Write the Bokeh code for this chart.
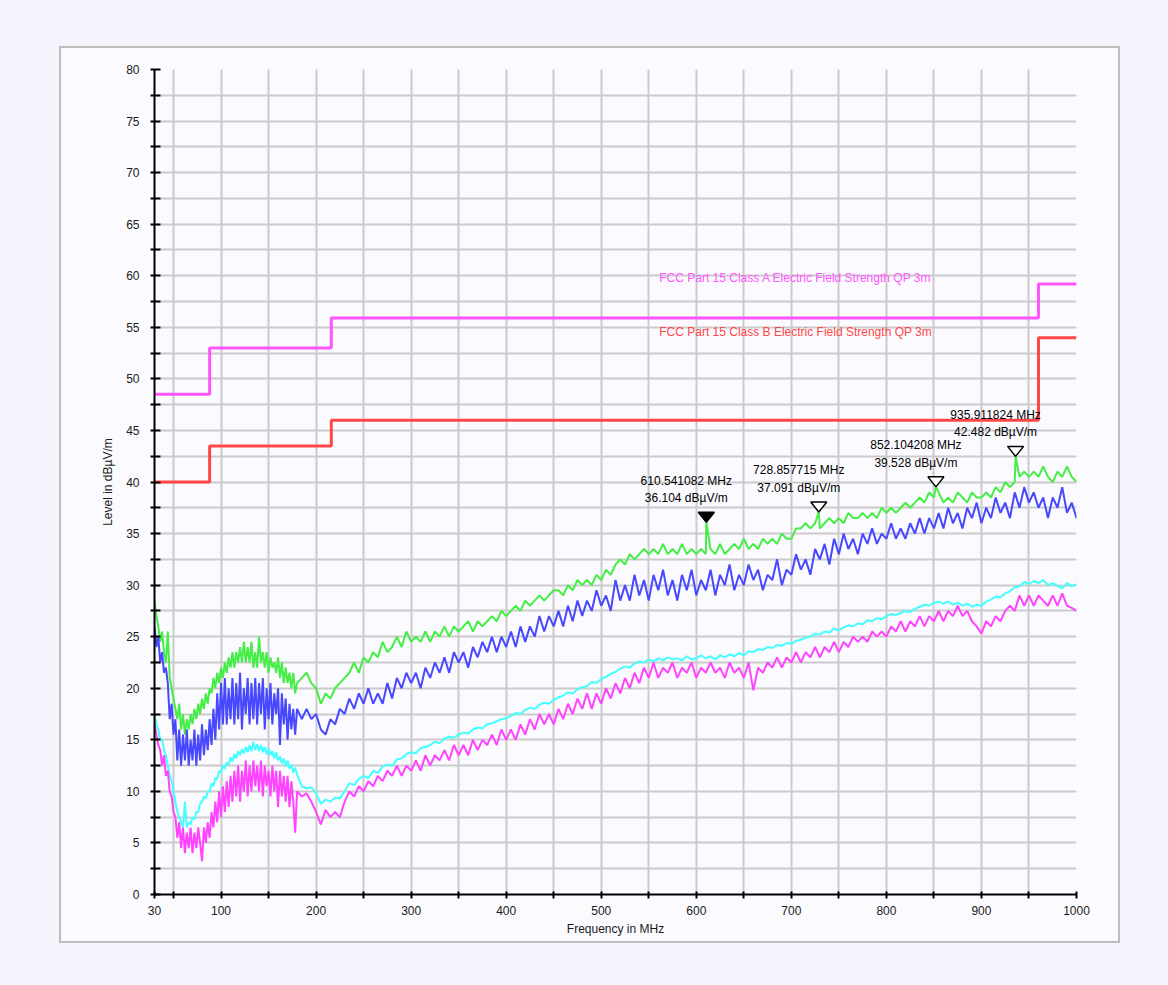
from bokeh.plotting import figure
from bokeh.models import Range1d, FixedTicker
from bokeh.core.properties import value
from bokeh.embed import file_html
from bokeh.resources import INLINE

# ---------------- data ----------------
freq = [
    30, 32, 34, 36, 38, 40, 42, 44, 46, 48,
    50, 52, 54, 56, 58, 60, 62, 64, 66, 68,
    70, 72, 74, 76, 78, 80, 82, 84, 86, 88,
    90, 92, 94, 96, 98, 100, 102, 104, 106, 108,
    110, 112, 114, 116, 118, 120, 122, 124, 126, 128,
    130, 132, 134, 136, 138, 140, 142, 144, 146, 148,
    150, 152, 154, 156, 158, 160, 162, 164, 166, 168,
    170, 172, 174, 176, 178, 180,
    185, 190, 195, 200, 205, 210, 215, 220, 225, 230,
    235, 240, 245, 250, 255, 260, 265, 270, 275, 280,
    285, 290, 295, 300, 305, 310, 315, 320, 325, 330,
    335, 340, 345, 350, 355, 360, 365, 370, 375, 380,
    385, 390, 395, 400, 405, 410, 415, 420, 425, 430,
    435, 440, 445, 450, 455, 460, 465, 470, 475, 480,
    485, 490, 495, 500, 505, 510, 515, 520, 525, 530,
    535, 540, 545, 550, 555, 560, 565, 570, 575, 580,
    585, 590, 595, 600, 605, 610, 615, 620, 625, 630,
    635, 640, 645, 650, 655, 660, 665, 670, 675, 680,
    685, 690, 695, 700, 705, 710, 715, 720, 725, 730,
    735, 740, 745, 750, 755, 760, 765, 770, 775, 780,
    785, 790, 795, 800, 805, 810, 815, 820, 825, 830,
    835, 840, 845, 850, 855, 860, 865, 870, 875, 880,
    885, 890, 895, 900, 905, 910, 915, 920, 925, 930,
    935, 940, 945, 950, 955, 960, 965, 970, 975, 980,
    985, 990, 995, 1000,
]

green_peak = [
    28.5, 27.0, 26.0, 24.5, 25.5, 23.5, 22.5, 25.5, 21.0, 20.0,
    19.0, 18.0, 17.0, 18.5, 16.0, 17.5, 15.5, 17.0, 16.0, 17.5,
    16.5, 18.0, 17.0, 18.5, 17.5, 19.0, 18.0, 19.5, 18.5, 20.0,
    19.5, 21.0, 20.0, 21.5, 20.5, 22.0, 21.0, 22.5, 21.5, 23.0,
    22.0, 23.5, 22.0, 23.5, 22.5, 24.0, 22.5, 24.5, 22.5, 24.0,
    22.5, 24.5, 22.0, 23.5, 22.0, 25.0, 22.5, 23.5, 22.0, 23.5,
    21.5, 23.0, 22.0, 22.5, 21.5, 23.0, 21.0, 22.5, 20.5, 22.0,
    20.5, 21.5, 20.0, 21.5, 19.5, 20.5,
    21.0, 21.5, 20.5, 20.0, 18.5, 19.5, 19.0, 20.0, 20.5, 21.0,
    21.5, 22.5, 21.5, 23.0, 22.5, 23.5, 23.0, 24.5, 23.5, 24.0,
    25.0, 24.0, 25.5, 24.5, 25.0, 24.5, 25.5, 24.5, 25.5, 25.0,
    26.0, 25.0, 26.0, 25.5, 26.0, 26.5, 25.5, 26.5, 26.0, 26.5,
    27.0, 26.5, 27.5, 27.0, 27.5, 28.0, 27.5, 28.5, 28.0, 28.5,
    29.0, 28.5, 29.0, 29.5, 29.5, 29.0, 30.0, 29.5, 30.5, 30.0,
    30.5, 30.0, 31.0, 30.5, 31.5, 31.0, 32.0, 32.5, 32.0, 33.0,
    32.5, 33.0, 33.5, 33.0, 33.5, 33.0, 34.0, 33.0, 33.5, 33.0,
    34.0, 33.0, 33.5, 33.0, 33.5, 33.0, 33.5, 33.0, 34.0, 33.0,
    33.5, 34.0, 33.5, 34.5, 33.5, 34.0, 33.5, 34.5, 34.0, 34.5,
    34.0, 35.0, 34.5, 34.5, 35.5, 35.5, 36.0, 35.5, 36.0, 35.5,
    36.0, 36.5, 36.0, 36.5, 36.0, 37.0, 36.5, 36.5, 37.0, 36.5,
    37.0, 36.5, 37.5, 37.0, 37.5, 37.0, 37.5, 38.0, 37.5, 38.0,
    38.5, 38.0, 39.0, 38.5, 39.0, 38.0, 38.5, 38.0, 39.0, 38.5,
    38.0, 39.0, 38.5, 38.5, 39.0, 38.5, 39.5, 39.0, 40.0, 39.5,
    40.0, 40.5, 41.0, 40.5, 41.0, 40.5, 41.5, 40.5, 40.0, 41.0,
    40.5, 41.5, 40.5, 40.0,
]

blue_peak = [
    26.0, 24.0, 25.0, 22.5, 23.5, 21.5, 22.0, 20.5, 17.0, 18.5,
    15.5, 17.0, 13.0, 16.0, 12.5, 15.5, 13.0, 16.0, 12.5, 15.0,
    13.0, 16.0, 12.5, 15.5, 13.0, 16.5, 13.5, 16.0, 14.0, 17.0,
    14.5, 18.0, 15.0, 19.5, 16.0, 20.5, 16.5, 21.0, 16.5, 20.0,
    17.0, 21.0, 16.5, 20.5, 17.0, 21.5, 16.0, 20.0, 17.5, 21.0,
    16.5, 20.5, 17.0, 21.0, 16.5, 20.5, 17.5, 21.0, 16.0, 20.0,
    17.0, 20.5, 16.5, 19.5, 17.5, 20.0, 14.5, 19.5, 16.5, 19.0,
    15.0, 18.5, 16.0, 18.0, 15.5, 18.0,
    17.0, 18.0, 17.0, 17.5, 16.0, 15.5, 17.0, 16.5, 18.0, 17.5,
    19.0, 18.0, 19.5, 18.5, 20.0, 18.5, 19.5, 18.5, 20.5, 19.0,
    21.0, 20.0, 21.5, 20.5, 21.5, 20.0, 22.0, 21.0, 22.5, 21.5,
    23.0, 21.5, 23.5, 22.5, 23.5, 22.0, 24.0, 23.0, 24.5, 23.5,
    25.0, 23.5, 25.0, 24.0, 25.5, 24.0, 26.0, 24.5, 26.0, 25.0,
    27.0, 25.5, 27.0, 26.0, 27.5, 26.0, 28.0, 26.5, 28.5, 27.0,
    28.5, 27.5, 29.5, 28.0, 29.0, 27.5, 30.5, 28.5, 30.0, 28.5,
    31.0, 29.0, 30.5, 28.5, 31.0, 29.5, 31.5, 29.0, 30.5, 28.5,
    31.0, 29.5, 31.5, 29.0, 30.5, 29.5, 31.5, 29.0, 31.0, 30.0,
    32.0, 29.5, 31.0, 30.0, 32.0, 30.5, 31.5, 29.5, 31.0, 30.5,
    32.5, 30.0, 31.5, 31.0, 33.0, 31.5, 32.5, 31.0, 33.5, 32.5,
    34.0, 32.0, 34.5, 33.0, 35.0, 33.5, 34.5, 33.0, 35.0, 34.0,
    35.5, 34.0, 35.0, 34.5, 36.0, 34.5, 35.5, 34.5, 36.0, 35.0,
    36.5, 35.0, 36.5, 35.5, 37.0, 35.5, 37.5, 36.0, 37.0, 35.5,
    37.5, 36.5, 38.0, 36.0, 37.5, 36.5, 38.5, 37.0, 38.0, 36.5,
    39.0, 37.5, 39.5, 38.0, 39.0, 37.5, 38.5, 36.5, 38.5, 37.5,
    39.5, 37.0, 38.0, 36.5,
]

cyan_avg = [
    17.5, 16.5, 16.0, 15.0, 15.0, 14.0, 13.5, 12.5, 11.5, 11.0,
    10.0, 9.0, 8.0, 7.5, 7.0, 6.5, 9.0, 6.5, 7.0, 6.8,
    7.5, 7.3, 8.0, 8.0, 8.8, 9.0, 9.5, 9.3, 10.0, 10.0,
    10.8, 10.5, 11.3, 11.2, 12.0, 11.8, 12.5, 12.2, 12.8, 12.6,
    13.3, 12.9, 13.6, 13.2, 13.9, 13.5, 14.1, 13.7, 14.3, 13.8,
    14.5, 13.9, 14.8, 14.0, 14.6, 13.9, 14.5, 13.8, 14.3, 13.6,
    14.2, 13.5, 13.9, 13.2, 13.8, 13.0, 13.4, 12.7, 13.2, 12.4,
    13.0, 12.2, 12.6, 11.8, 12.3, 11.6,
    10.5, 10.3, 10.4, 9.8, 8.8, 9.2, 9.0, 9.4, 9.3, 10.0,
    10.8, 10.6, 11.2, 11.5, 11.3, 12.0, 11.8, 12.4, 12.6, 12.5,
    13.1, 13.2, 13.6, 13.8, 13.7, 14.2, 14.3, 14.5, 14.8, 14.7,
    15.1, 15.3, 15.2, 15.5, 15.7, 15.6, 16.0, 16.2, 16.1, 16.5,
    16.6, 16.8, 17.0, 17.1, 17.3, 17.6, 17.5, 17.9, 18.1, 18.0,
    18.4, 18.6, 18.5, 18.9, 19.1, 19.3, 19.6, 19.5, 19.9, 20.1,
    20.2, 20.6, 20.5, 20.9, 21.1, 21.4, 21.6, 21.9, 22.1, 22.0,
    22.4, 22.6, 22.5, 22.8, 22.6, 22.9, 22.7, 23.0, 22.8, 22.9,
    22.7, 23.1, 22.8, 22.9, 23.2, 22.9, 23.1, 22.8, 23.2, 23.0,
    23.3, 23.1, 23.4, 23.2, 23.6, 23.5, 23.8, 23.7, 24.0, 23.9,
    24.2, 24.1, 24.4, 24.3, 24.6, 24.7, 24.9, 25.0, 25.3, 25.2,
    25.5, 25.4, 25.8, 25.6, 25.9, 26.1, 26.0, 26.3, 26.2, 26.6,
    26.5, 26.8, 26.7, 27.0, 27.2, 27.1, 27.3, 27.5, 27.4, 27.7,
    27.9, 28.1, 28.0, 28.3, 28.4, 28.2, 28.4, 28.1, 28.3, 28.0,
    28.2, 27.9, 28.1, 28.0, 28.4, 28.6, 28.9, 28.8, 29.2, 29.4,
    29.8, 29.9, 30.3, 30.1, 30.4, 30.2, 30.5, 30.0, 30.2, 29.9,
    29.7, 30.2, 29.9, 30.1,
]

magenta_avg = [
    16.5, 15.5, 14.5, 14.0, 12.5, 13.5, 11.5, 12.0, 10.0, 9.5,
    8.0, 7.5, 5.5, 7.0, 4.5, 6.5, 4.0, 6.0, 4.5, 6.5,
    4.0, 6.0, 4.5, 6.5, 5.0, 3.2, 6.5, 5.0, 7.0, 5.5,
    8.0, 6.5, 9.0, 7.0, 10.0, 7.5, 10.5, 8.0, 11.0, 8.5,
    11.5, 9.0, 12.0, 9.5, 12.5, 9.0, 12.0, 10.0, 13.0, 9.5,
    12.5, 10.0, 13.0, 10.5, 12.5, 10.0, 13.0, 9.5, 12.5, 10.5,
    12.0, 9.5, 12.5, 10.0, 12.0, 8.5, 12.0, 9.5, 11.5, 9.0,
    11.5, 8.5, 11.0, 9.0, 6.0, 10.0,
    9.5, 9.8, 9.0, 8.0, 6.8, 8.2, 7.5, 8.0, 7.5, 9.0,
    10.0, 9.5, 10.5, 10.0, 11.0, 10.5, 11.5, 11.0, 12.0, 11.5,
    12.5, 11.5, 12.5, 12.0, 13.0, 12.0, 13.5, 12.5, 13.5, 13.0,
    14.0, 13.0, 14.5, 13.5, 14.5, 13.5, 15.0, 14.0, 15.0, 14.5,
    15.5, 14.5, 16.0, 15.0, 16.0, 15.0, 16.5, 15.5, 17.0, 16.0,
    17.5, 16.5, 17.5, 16.5, 18.0, 17.0, 18.5, 17.5, 19.0, 18.0,
    19.5, 18.0, 19.5, 18.5, 20.0, 19.0, 20.5, 19.5, 21.0, 20.0,
    21.5, 20.5, 22.0, 21.0, 22.5, 21.0, 22.0, 21.5, 22.5, 21.0,
    22.0, 21.5, 22.5, 21.0, 22.0, 21.5, 22.5, 21.5, 22.0, 21.0,
    22.5, 21.5, 22.0, 21.0, 22.5, 19.8, 22.0, 21.5, 22.5, 22.0,
    23.0, 22.0, 23.0, 22.5, 23.5, 22.5, 23.5, 23.0, 24.0, 23.0,
    24.0, 23.5, 24.5, 23.5, 24.5, 24.0, 25.0, 24.5, 25.0, 24.5,
    25.5, 25.0, 25.5, 25.0, 26.0, 25.5, 26.5, 25.5, 26.5, 26.0,
    27.0, 26.0, 27.0, 26.5, 27.5, 26.5, 27.5, 27.0, 28.0, 27.0,
    27.5, 26.5, 26.0, 25.3, 26.5, 26.0, 27.0, 26.5, 27.5, 28.0,
    27.5, 29.0, 28.0, 29.0, 28.0, 29.0, 28.5, 28.0, 29.0, 28.0,
    29.2, 28.0, 27.8, 27.5,
]

# marker peaks (on the green trace)
peak_freq = [610.541082, 728.857715, 852.104208, 935.911824]
peak_level = [36.104, 37.091, 39.528, 42.482]

# limit lines
limit_freq = [30, 88, 216, 960, 1000]
class_a = [48.5, 53.0, 55.9, 59.2, 59.2]
class_b = [40.0, 43.5, 46.0, 54.0, 54.0]

x_ticks = [30, 50, 100, 150, 200, 250, 300, 350, 400, 450, 500,
           550, 600, 650, 700, 750, 800, 850, 900, 950, 1000]
y_ticks = [0, 2.5, 5, 7.5, 10, 12.5, 15, 17.5, 20, 22.5, 25, 27.5, 30,
           32.5, 35, 37.5, 40, 42.5, 45, 47.5, 50, 52.5, 55, 57.5, 60,
           62.5, 65, 67.5, 70, 72.5, 75, 77.5, 80]

for s in (green_peak, blue_peak, cyan_avg, magenta_avg):
    assert len(s) == len(freq), len(s)

# ---------------- styling ----------------
PAGE = "#f4f5fc"
PANEL = "#fbfbff"
FONT = "Liberation Sans"

p = figure(width=1057, height=893,
           x_range=Range1d(30, 1000), y_range=Range1d(0, 80),
           output_backend="svg", toolbar_location=None,
           background_fill_color=PANEL, border_fill_color=PANEL,
           min_border_left=93, min_border_right=46,
           min_border_top=21, min_border_bottom=51,
           x_axis_label="Frequency in MHz", y_axis_label="Level in dBµV/m")
p.margin = (46, 0, 0, 59)
p.styles = {"border": "2px solid #bdbdbd", "box-sizing": "content-box"}
p.outline_line_color = None

xt = FixedTicker(ticks=x_ticks)
yt = FixedTicker(ticks=y_ticks)
p.xaxis.ticker = xt
p.yaxis.ticker = yt
p.xgrid.ticker = xt
p.ygrid.ticker = yt
p.xaxis.major_label_overrides = {t: "" for t in x_ticks if t % 100 != 0 and t != 30}
p.yaxis.major_label_overrides = {t: "" for t in y_ticks if t % 5 != 0}

for g in (p.xgrid, p.ygrid):
    g.grid_line_color = "#cbcbcb"
    g.grid_line_width = 2

for ax in (p.xaxis, p.yaxis):
    ax.axis_line_color = "black"
    ax.axis_line_width = 2
    ax.major_tick_line_color = "black"
    ax.major_tick_line_width = 2
    ax.major_tick_out = 4
    ax.minor_tick_line_color = None
    ax.major_label_text_font = FONT
    ax.major_label_text_font_size = "12px"
    ax.major_label_text_color = "#1a1a1a"
    ax.axis_label_text_font = FONT
    ax.axis_label_text_font_size = "12px"
    ax.axis_label_text_font_style = "normal"
    ax.axis_label_text_color = "#1a1a1a"
p.xaxis.major_tick_in = 3
p.yaxis.major_tick_in = 6
p.xaxis.major_label_standoff = 7
p.yaxis.major_label_standoff = 11
p.xaxis.axis_label_standoff = 4
p.yaxis.axis_label_standoff = 8

# limit lines
p.step(limit_freq, class_a, mode="after", line_color="#ff55ff", line_width=3)
p.step(limit_freq, class_b, mode="after", line_color="#ff4747", line_width=3)
p.text(x=[561], y=[59.8], text=["FCC Part 15 Class A Electric Field Strength QP 3m"],
       text_color="#ff55ff", text_font=value(FONT), text_font_size="12px",
       text_align="left", text_baseline="middle")
p.text(x=[561], y=[54.5], text=["FCC Part 15 Class B Electric Field Strength QP 3m"],
       text_color="#ff4747", text_font=value(FONT), text_font_size="12px",
       text_align="left", text_baseline="middle")

# traces
g_pts = sorted(zip(freq + peak_freq, green_peak + peak_level))
p.line([a for a, b in g_pts], [b for a, b in g_pts], line_color="#44ee44", line_width=2)
p.line(freq, blue_peak, line_color="#4848ff", line_width=2)
p.line(freq, cyan_avg, line_color="#44ffff", line_width=2)
p.line(freq, magenta_avg, line_color="#ff44ff", line_width=2)

# markers (apex at the peak value)
px_per_mhz = 922 / 970
px_per_db = 825 / 80
dx = 8 / px_per_mhz
dy = 10 / px_per_db
xs = [[f - dx, f + dx, f] for f in peak_freq]
ys = [[v + dy, v + dy, v] for v in peak_level]
p.patches(xs, ys, fill_color=["black", "white", "white", "white"],
          line_color="black", line_width=1.5)
labels = [f"{f:.6f} MHz\n{v:.3f} dBµV/m" for f, v in zip(peak_freq, peak_level)]
p.text(peak_freq, peak_level, text=labels, text_align="center", text_baseline="bottom",
       x_offset=-20, y_offset=-17, text_font=value(FONT), text_font_size="12px",
       text_color="black", text_line_height=1.25)

html = file_html(p, INLINE)
html = html.replace("</head>", "<style>html,body{background:%s;}</style></head>" % PAGE, 1)
open("out.html", "w").write(html)
